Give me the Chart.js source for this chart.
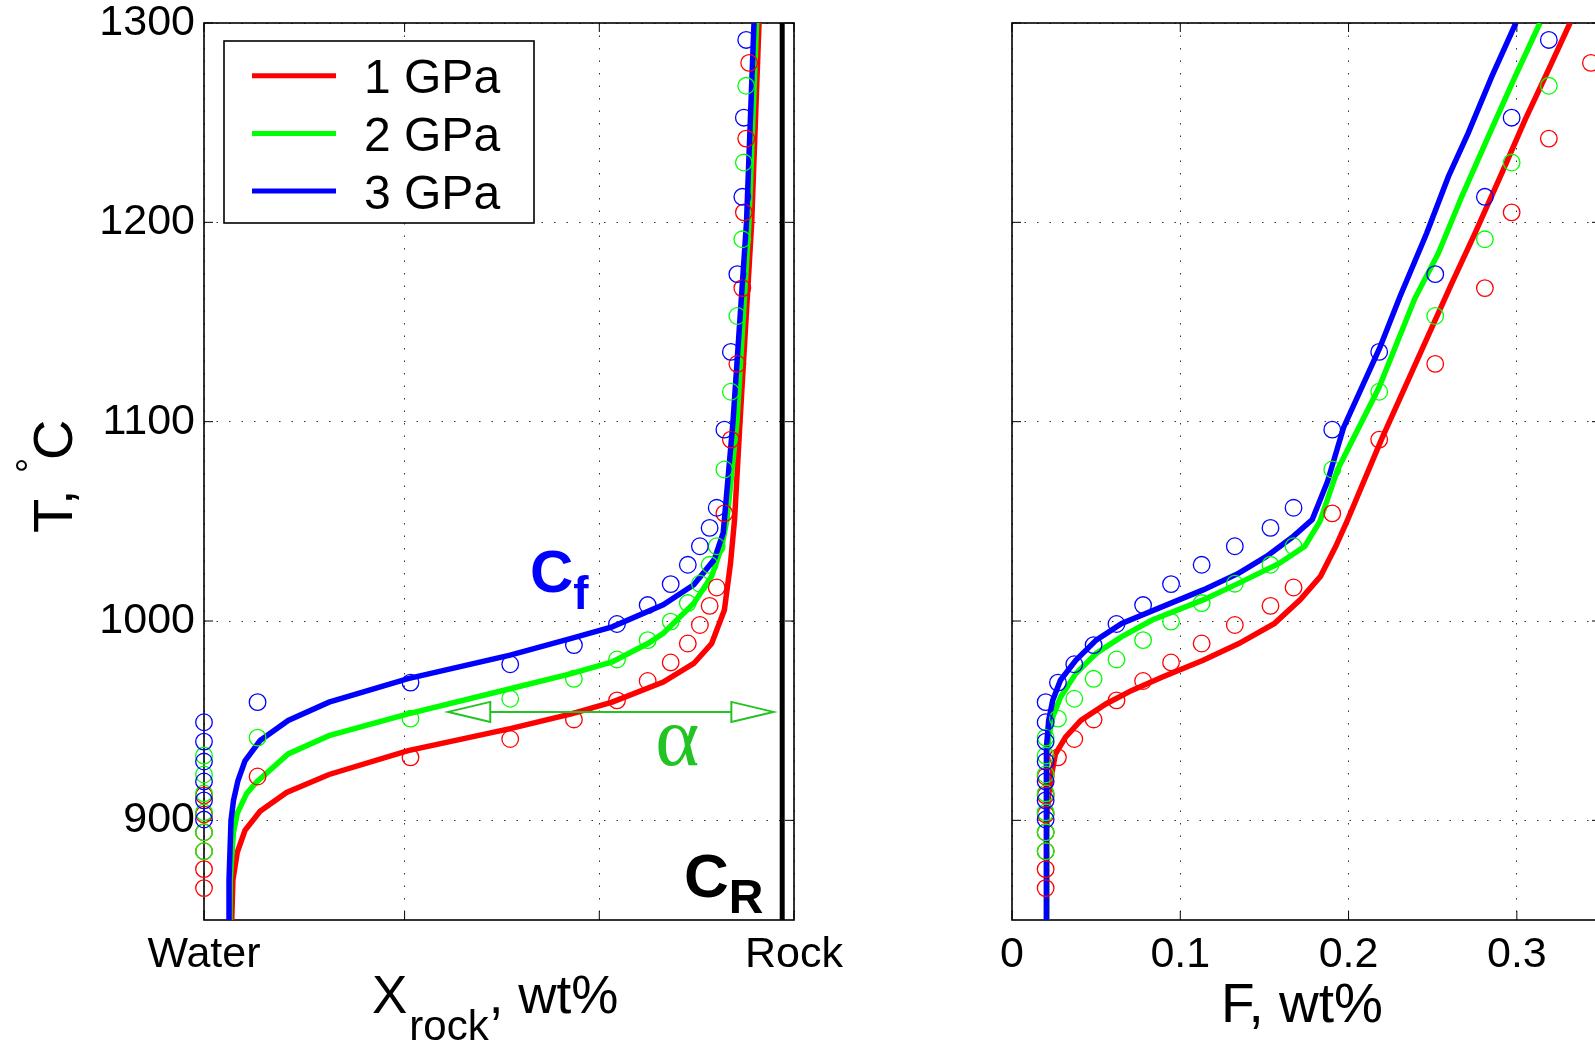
<!DOCTYPE html>
<html>
<head>
<meta charset="utf-8">
<script src="https://cdn.jsdelivr.net/npm/chart.js@4.4.1/dist/chart.umd.min.js"></script>
<style>
html, body { margin: 0; padding: 0; background: #fff; overflow: hidden; }
#wrap { position: relative; width: 1595px; height: 1045px; overflow: hidden; }
canvas { position: absolute; top: 0; }
#leftChart { left: 0; }
#rightChart { left: 880px; }
</style>
</head>
<body>
<div id="wrap">
  <canvas id="leftChart" width="900" height="1045"></canvas>
  <canvas id="rightChart" width="820" height="1045"></canvas>
</div>
<script>
// axis ticks
const tempTicks = [900, 1000, 1100, 1200, 1300];
const mixTicks = [0, 0.34, 0.67, 1];
const mixTickLabels = ['Water', '', '', 'Rock'];
const meltTicks = [0, 0.1, 0.2, 0.3];

const pressureLabels = ['1 GPa', '2 GPa', '3 GPa'];
const pressureColors = ['#ff0000', '#00ff00', '#0000ff'];

// model curves, left panel (X rock fraction vs T)
const curveT1 = [850, 870, 884, 895, 904.5, 914, 923, 935, 946, 953.4, 959.3, 969.4, 978.7, 988.7, 1005.5, 1029, 1051, 1100, 1200, 1300];
const curveX1 = [0.047, 0.049, 0.0564, 0.0695, 0.095, 0.14, 0.212, 0.346, 0.519, 0.6226, 0.6918, 0.7783, 0.8302, 0.8604, 0.882, 0.8924, 0.8993, 0.9085, 0.9283, 0.9407];
const curveT2 = [850, 870, 893.6, 903.5, 913.5, 919.3, 933.3, 942.5, 953.4, 966, 973.6, 979.5, 988.7, 993.8, 1008.9, 1022.4, 1037.5, 1050.9, 1100, 1200, 1300];
const curveX2 = [0.044, 0.0445, 0.0497, 0.0564, 0.0724, 0.0893, 0.1427, 0.2119, 0.3459, 0.5189, 0.6226, 0.6918, 0.7523, 0.7783, 0.8302, 0.8604, 0.8777, 0.8864, 0.9034, 0.9237, 0.9366];
const curveT3 = [850, 870, 885, 900, 910, 920, 929.9, 940, 950.1, 959.3, 971.1, 982.9, 991.3, 997.1, 1008.1, 1018.2, 1030.8, 1044.2, 1100, 1200, 1300];
const curveX3 = [0.0424, 0.0424, 0.0441, 0.0458, 0.05, 0.0576, 0.0695, 0.0951, 0.1427, 0.2119, 0.3459, 0.5189, 0.6226, 0.6918, 0.7783, 0.8302, 0.8648, 0.880, 0.8966, 0.9195, 0.9322];

// model curves, right panel (melt fraction F vs T)
const meltT1 = [850, 899.7, 913.1, 923.2, 933.3, 941.7, 950.1, 958.5, 965.2, 971.9, 980.3, 988.7, 998.8, 1010.6, 1022.4, 1037.5, 1050.9, 1091, 1130, 1169.4, 1194.5, 1224.6, 1251.3, 1276.4, 1300];
const meltF1 = [0.0203, 0.0206, 0.0218, 0.0236, 0.0258, 0.0318, 0.0409, 0.056, 0.0712, 0.0894, 0.1136, 0.1348, 0.156, 0.1712, 0.1833, 0.1924, 0.1995, 0.2195, 0.2403, 0.2613, 0.2751, 0.291, 0.3048, 0.3187, 0.3316];
const meltT2 = [850, 925, 941.7, 951.8, 961.8, 973.6, 983.7, 992, 1000.5, 1010.6, 1019, 1029, 1037.5, 1050, 1076, 1117, 1162, 1184.4, 1212.8, 1243, 1273, 1300];
const meltF2 = [0.0203, 0.0206, 0.0218, 0.0242, 0.0288, 0.0379, 0.05, 0.065, 0.0833, 0.1136, 0.1348, 0.159, 0.174, 0.183, 0.1935, 0.218, 0.2395, 0.2533, 0.2672, 0.283, 0.2989, 0.3137];
const meltT3 = [850, 916.5, 936.6, 950.1, 960.2, 970.3, 980.3, 990.4, 998.8, 1007.2, 1015.6, 1024, 1032.4, 1042, 1050.9, 1070, 1097, 1137, 1162.7, 1194.5, 1222.9, 1244.6, 1273, 1300];
const meltF3 = [0.0203, 0.0203, 0.0206, 0.0218, 0.0242, 0.0288, 0.0379, 0.05, 0.0652, 0.0894, 0.1136, 0.1348, 0.1512, 0.1665, 0.1784, 0.1875, 0.197, 0.2185, 0.2305, 0.2464, 0.2593, 0.271, 0.285, 0.2994];

// experiments (circles): temperatures per pressure, shared X and F columns
const expT1 = [866, 875.5, 884.5, 894, 903, 912.5, 922, 931.6, 940.8, 950.6, 960.2, 969.9, 979.2, 988.7, 998, 1007.6, 1016.8, 1054, 1091, 1129, 1167, 1205, 1242, 1280];
const expT2 = [884.5, 894, 904, 913.5, 923, 932.5, 941.5, 951, 961, 971, 980.7, 990.4, 999.7, 1009, 1018.7, 1028.2, 1037.5, 1076, 1115, 1153, 1191.5, 1230, 1268.5];
const expT3 = [900.4, 910, 919.5, 929.5, 939.5, 949.2, 959.3, 969.1, 978.3, 987.9, 998.5, 1008, 1018.5, 1028.2, 1037.5, 1046.7, 1056.8, 1096, 1135, 1174, 1212.8, 1252.5, 1291.5];
const expX = [0, 0, 0, 0, 0, 0, 0.0908, 0.35, 0.519, 0.627, 0.70, 0.752, 0.791, 0.82, 0.8405, 0.857, 0.869, 0.882, 0.893, 0.904, 0.9124, 0.915, 0.919, 0.924];
const expF = [0.02, 0.02, 0.02, 0.02, 0.02, 0.02, 0.02, 0.0273, 0.037, 0.0485, 0.0621, 0.0779, 0.0945, 0.1127, 0.1324, 0.1536, 0.1673, 0.1903, 0.2182, 0.2515, 0.281, 0.2969, 0.319, 0.344];

// rock composition line and alpha arrow (left panel)
const rockX = 0.98;
const alphaT = 954.4;
const alphaRange = [0.414, 0.965];

const FONT = '"Liberation Sans", Arial, Helvetica, sans-serif';
Chart.defaults.font.family = FONT;
Chart.defaults.color = '#000';

function font(size, bold) {
    return (bold ? 'bold ' : '') + size + 'px ' + FONT;
}

function pts(xs, ys) {
    return xs.map((v, i) => ({ x: v, y: ys[i] }));
}

function curveSet(label, color, data, order) {
    return {
        label: label, isCurve: true, data: data, showLine: true,
        borderColor: color, borderWidth: 5.5, pointRadius: 0,
        fill: false, tension: 0, order: order
    };
}

function circleSet(color, data, order) {
    return {
        data: data, showLine: false, pointStyle: 'circle', pointRadius: 8.3,
        pointBorderWidth: 1.3, borderColor: color, backgroundColor: 'rgba(0,0,0,0)',
        clip: false, order: order
    };
}

// keep label overhang from moving the plot box
function noOverhang(s) {
    s.paddingTop = 0; s.paddingBottom = 0; s.paddingLeft = 0; s.paddingRight = 0;
}

function tempAxis(width, showLabels) {
    return {
        type: 'linear', min: 850, max: 1300,
        afterBuildTicks: s => { s.ticks = tempTicks.map(v => ({ value: v })); },
        afterFit: s => { s.width = width; noOverhang(s); },
        ticks: { display: showLabels, font: { size: 43 }, padding: 9, color: '#000', callback: v => String(v) },
        grid: { color: 'rgba(0,0,0,0.8)', lineWidth: 1, drawTicks: false },
        border: { display: false, dash: [1.5, 11] }
    };
}

function bottomAxis(max, ticksList, labelFn) {
    return {
        type: 'linear', min: 0, max: max,
        afterBuildTicks: s => { s.ticks = ticksList.map(v => ({ value: v })); },
        afterFit: s => { s.height = 125; noOverhang(s); },
        ticks: { font: { size: 43 }, padding: 9, maxRotation: 0, autoSkip: false, callback: labelFn },
        grid: { color: 'rgba(0,0,0,0.8)', lineWidth: 1, drawTicks: false },
        border: { display: false, dash: [1.5, 11] }
    };
}

// box round the axes, with ticks pointing inside
const framePlugin = {
    id: 'frame',
    beforeDatasetsDraw(chart) {
        const { ctx, chartArea: a, scales } = chart;
        ctx.save();
        ctx.strokeStyle = '#000';
        ctx.lineWidth = 1;
        scales.x.ticks.forEach(t => {
            const px = scales.x.getPixelForValue(t.value);
            ctx.beginPath();
            ctx.moveTo(px, a.bottom); ctx.lineTo(px, a.bottom - 9);
            ctx.moveTo(px, a.top); ctx.lineTo(px, a.top + 9);
            ctx.stroke();
        });
        scales.y.ticks.forEach(t => {
            const py = scales.y.getPixelForValue(t.value);
            ctx.beginPath();
            ctx.moveTo(a.left, py); ctx.lineTo(a.left + 9, py);
            ctx.moveTo(a.right, py); ctx.lineTo(a.right - 9, py);
            ctx.stroke();
        });
        ctx.lineWidth = 1.6;
        ctx.strokeRect(a.left, a.top, a.right - a.left, a.bottom - a.top);
        ctx.restore();
    }
};

function drawArrowHead(ctx, tipX, y, dir) {
    // open triangle, dir = -1 points left, +1 points right
    ctx.beginPath();
    ctx.moveTo(tipX, y);
    ctx.lineTo(tipX - dir * 42, y - 10);
    ctx.lineTo(tipX - dir * 42, y + 10);
    ctx.closePath();
    ctx.stroke();
}

const leftNotes = {
    id: 'leftNotes',
    afterDraw(chart) {
        const { ctx, scales: { x, y } } = chart;
        ctx.save();
        ctx.fillStyle = '#000';
        ctx.textBaseline = 'alphabetic';
        ctx.textAlign = 'left';

        // y title  T, °C
        ctx.save();
        ctx.translate(72, 533);
        ctx.rotate(-Math.PI / 2);
        ctx.font = font(56);
        ctx.fillText('T,', 0, 0);
        ctx.font = font(38);
        ctx.fillText('°', 60, -29);
        ctx.font = font(56);
        ctx.fillText('C', 73, 0);
        ctx.restore();

        // x title  X_rock, wt%
        ctx.font = font(53);
        let cx = 372;
        ctx.fillText('X', cx, 1013);
        cx += ctx.measureText('X').width + 2;
        ctx.font = font(42);
        ctx.fillText('rock', cx, 1040);
        cx += ctx.measureText('rock').width;
        ctx.font = font(53);
        ctx.fillText(', wt%', cx, 1013);

        // legend
        const lx = 224, ly = 41, lw = 310, lh = 182;
        ctx.fillStyle = '#fff';
        ctx.fillRect(lx, ly, lw, lh);
        ctx.strokeStyle = '#000';
        ctx.lineWidth = 1.6;
        ctx.strokeRect(lx, ly, lw, lh);
        const curves = chart.data.datasets.filter(d => d.isCurve);
        curves.forEach((d, i) => {
            const rowY = 75.7 + i * 57.7;
            ctx.strokeStyle = d.borderColor;
            ctx.lineWidth = 5;
            ctx.beginPath();
            ctx.moveTo(252, rowY); ctx.lineTo(336, rowY);
            ctx.stroke();
            ctx.fillStyle = '#000';
            ctx.font = font(48);
            ctx.fillText(d.label, 364, rowY + 17.5);
        });

        // alpha arrow
        const green = '#22c322';
        const ay = y.getPixelForValue(alphaT);
        const x0 = x.getPixelForValue(alphaRange[0]);
        const x1 = x.getPixelForValue(alphaRange[1]);
        ctx.strokeStyle = green;
        ctx.lineWidth = 2;
        ctx.beginPath();
        ctx.moveTo(x0 + 42, ay); ctx.lineTo(x1 - 42, ay);
        ctx.stroke();
        drawArrowHead(ctx, x0, ay, -1);
        drawArrowHead(ctx, x1, ay, 1);
        ctx.fillStyle = green;
        ctx.font = '84px "Liberation Serif", "DejaVu Serif", serif';
        ctx.fillText('α', x.getPixelForValue(0.765), y.getPixelForValue(927.7));

        // C_f
        ctx.fillStyle = '#0000ff';
        ctx.font = font(60, true);
        let fx = x.getPixelForValue(0.5525);
        const fy = y.getPixelForValue(1014.5);
        ctx.fillText('C', fx, fy);
        fx += ctx.measureText('C').width;
        ctx.font = font(46, true);
        ctx.fillText('f', fx, fy + 17);

        // C_R
        ctx.fillStyle = '#000';
        ctx.font = font(62, true);
        let rx = x.getPixelForValue(0.8136);
        const ry = y.getPixelForValue(861.5);
        ctx.fillText('C', rx, ry);
        rx += ctx.measureText('C').width;
        ctx.font = font(48, true);
        ctx.fillText('R', rx, ry + 16);

        ctx.restore();
    }
};

const rightNotes = {
    id: 'rightNotes',
    afterDraw(chart) {
        const ctx = chart.ctx;
        ctx.save();
        ctx.fillStyle = '#000';
        ctx.textAlign = 'left';
        ctx.textBaseline = 'alphabetic';
        ctx.font = font(55);
        ctx.fillText('F, wt%', 341, 1022);
        ctx.restore();
    }
};

// left panel
new Chart(document.getElementById('leftChart'), {
    type: 'scatter',
    data: {
        datasets: [
            circleSet(pressureColors[2], pts(expX, expT3), 0),
            circleSet(pressureColors[1], pts(expX, expT2), 1),
            circleSet(pressureColors[0], pts(expX, expT1), 2),
            curveSet(pressureLabels[0], pressureColors[0], pts(curveX1, curveT1), 5),
            curveSet(pressureLabels[1], pressureColors[1], pts(curveX2, curveT2), 4),
            curveSet(pressureLabels[2], pressureColors[2], pts(curveX3, curveT3), 3),
            {
                data: [{ x: rockX, y: 850 }, { x: rockX, y: 1300 }], showLine: true,
                borderColor: '#000', borderWidth: 5, pointRadius: 0, order: 6
            }
        ]
    },
    options: {
        responsive: false,
        animation: false,
        devicePixelRatio: 1,
        layout: { padding: { left: 0, right: 106, top: 23, bottom: 0 } },
        plugins: { legend: { display: false }, tooltip: { enabled: false } },
        scales: {
            x: bottomAxis(1, mixTicks, (v, i) => mixTickLabels[i]),
            y: tempAxis(204, true)
        }
    },
    plugins: [framePlugin, leftNotes]
});

// right panel (runs past the window edge)
new Chart(document.getElementById('rightChart'), {
    type: 'scatter',
    data: {
        datasets: [
            circleSet(pressureColors[2], pts(expF, expT3), 0),
            circleSet(pressureColors[1], pts(expF, expT2), 1),
            circleSet(pressureColors[0], pts(expF, expT1), 2),
            curveSet(pressureLabels[0], pressureColors[0], pts(meltF1, meltT1), 5),
            curveSet(pressureLabels[1], pressureColors[1], pts(meltF2, meltT2), 4),
            curveSet(pressureLabels[2], pressureColors[2], pts(meltF3, meltT3), 3)
        ]
    },
    options: {
        responsive: false,
        animation: false,
        devicePixelRatio: 1,
        layout: { padding: { left: 0, right: 99, top: 23, bottom: 0 } },
        plugins: { legend: { display: false }, tooltip: { enabled: false } },
        scales: {
            x: bottomAxis(0.35, meltTicks, v => (v === 0 ? '0' : v.toFixed(1))),
            y: tempAxis(132, false)
        }
    },
    plugins: [framePlugin, rightNotes]
});
</script>
</body>
</html>
